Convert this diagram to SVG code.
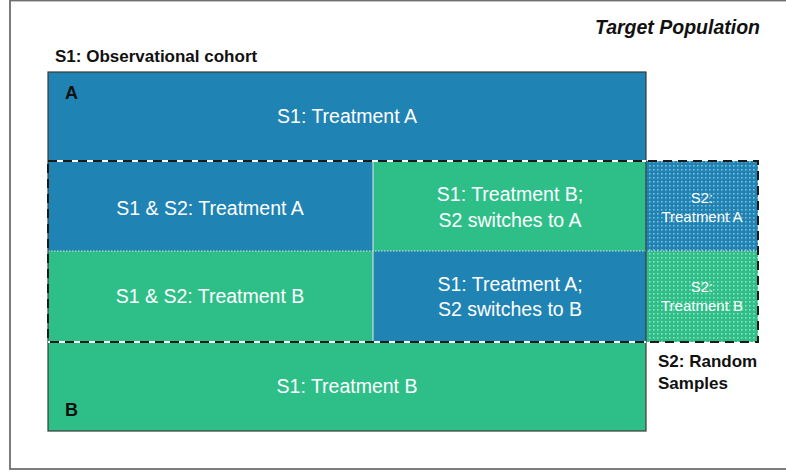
<svg xmlns="http://www.w3.org/2000/svg" width="786" height="473" viewBox="0 0 786 473">
<style>
.blue{fill:#1f83b4}
.green{fill:#2ebf89}
.wt{fill:#ffffff;font-family:"Liberation Sans",Arial,sans-serif;font-size:19.5px;text-anchor:middle}
.ws{fill:#ffffff;font-family:"Liberation Sans",Arial,sans-serif;font-size:15px;text-anchor:middle}
.bk{fill:#111111;font-family:"Liberation Sans",Arial,sans-serif;font-weight:bold;font-size:17px}
</style>
<defs>
<pattern id="dots" width="4" height="4" patternUnits="userSpaceOnUse">
<rect x="1" y="1" width="1.6" height="1.6" fill="#ffffff" fill-opacity="0.45"/>
</pattern>
</defs>
<rect width="786" height="473" fill="#ffffff"/>
<rect id="frame" x="10" y="0.5" width="790" height="468.5" fill="none" stroke="#6e6e6e" stroke-width="1.8"/>
<text x="760" y="34" class="bk" style="font-size:19.5px;font-style:italic;text-anchor:end">Target Population</text>
<text x="55" y="62" class="bk">S1: Observational cohort</text>
<g id="rowA">
<rect x="48" y="72" width="598" height="89" class="blue"/>
<text x="347" y="123" class="wt">S1: Treatment A</text>
<text x="65" y="99" class="bk" style="font-size:18px">A</text>
</g>
<g id="rowB">
<rect x="48" y="342" width="598" height="89" class="green"/>
<text x="347" y="393" class="wt">S1: Treatment B</text>
<text x="65" y="416" class="bk" style="font-size:18px">B</text>
</g>
<g id="s12A">
<rect x="48" y="161" width="325" height="90" class="blue"/>
<text x="210" y="215" class="wt">S1 &amp; S2: Treatment A</text>
</g>
<g id="s12B">
<rect x="48" y="251" width="325" height="91" class="green"/>
<text x="210" y="303" class="wt">S1 &amp; S2: Treatment B</text>
</g>
<g id="switchA">
<rect x="373" y="161" width="273" height="90" class="green"/>
<text x="510" y="201" class="wt">S1: Treatment B;</text>
<text x="510" y="227" class="wt">S2 switches to A</text>
</g>
<g id="switchB">
<rect x="373" y="251" width="273" height="91" class="blue"/>
<text x="510" y="291" class="wt">S1: Treatment A;</text>
<text x="510" y="316" class="wt">S2 switches to B</text>
</g>
<g id="s2A">
<rect x="646" y="161" width="112" height="90" class="blue"/>
<rect x="646" y="161" width="112" height="90" fill="url(#dots)"/>
<text x="702" y="203" class="ws">S2:</text>
<text x="702" y="222" class="ws">Treatment A</text>
</g>
<g id="s2B">
<rect x="646" y="251" width="112" height="91" class="green"/>
<rect x="646" y="251" width="112" height="91" fill="url(#dots)"/>
<text x="702" y="292" class="ws">S2:</text>
<text x="702" y="311" class="ws">Treatment B</text>
</g>
<g id="connectors">
<line x1="373" y1="161" x2="373" y2="342" stroke="#e6e6e6" stroke-width="1"/>
<line x1="48" y1="251" x2="758" y2="251" stroke="#dddddd" stroke-width="1.2" stroke-dasharray="1.5,1.5"/>
<rect x="48" y="72" width="598" height="359" fill="none" stroke="#3a3a3a" stroke-width="1.2"/>
<line x1="48" y1="161" x2="646" y2="161" stroke="#ffffff" stroke-width="2"/>
<line x1="48" y1="342" x2="646" y2="342" stroke="#ffffff" stroke-width="2"/>
<rect x="48" y="161" width="710" height="181" fill="none" stroke="#1a1a1a" stroke-width="2" stroke-dasharray="9,6"/>
</g>
<text x="658" y="367" class="bk">S2: Random</text>
<text x="658" y="389" class="bk">Samples</text>
</svg>
